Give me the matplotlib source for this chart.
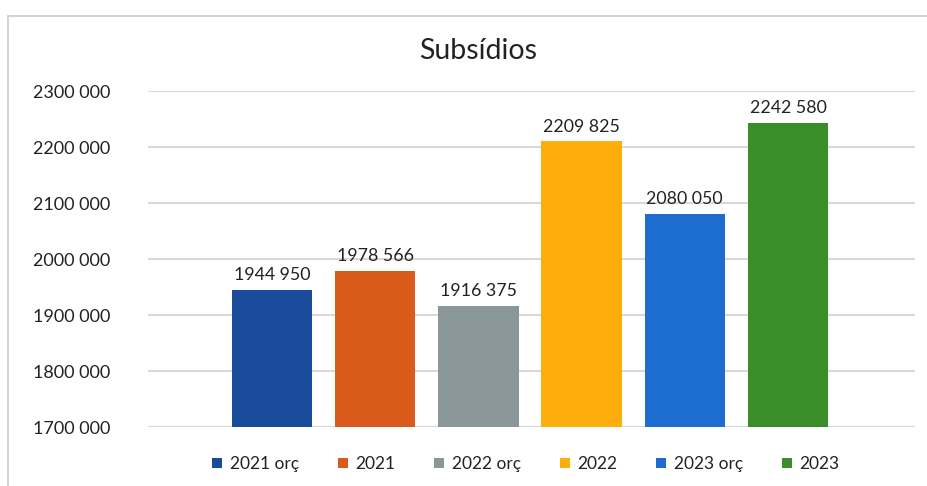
import matplotlib.pyplot as plt
from matplotlib.patches import Rectangle, Patch

plt.rcParams['font.family'] = ['Lato', 'DejaVu Sans']

# Subsídios por ano (orçamento vs. executado)
series = ['2021 orç', '2021', '2022 orç', '2022', '2023 orç', '2023']
values = [1944950, 1978566, 1916375, 2209825, 2080050, 2242580]
colors = ['#1b4c9c', '#da5a1b', '#8a9799', '#fdae0c', '#1d6dd0', '#3a8e2a']
yticks = [1700000, 1800000, 1900000, 2000000, 2100000, 2200000, 2300000]


def fmt(v):
    # espaço como separador de milhares, sem separar o primeiro grupo
    s = f'{v:,}'.split(',')
    return ''.join(s[:-1]) + ' ' + s[-1]


fig = plt.figure(figsize=(9.28, 4.86), dpi=100)
ax = fig.add_axes([148 / 928, 1 - 427 / 486, 767 / 928, 336 / 486])

x = list(range(len(series)))
bars = ax.bar(x, values, width=0.78, color=colors, zorder=2)

for xi, v in zip(x, values):
    ax.annotate(fmt(v), (xi, v), xytext=(0, 5), textcoords='offset points',
                ha='center', va='bottom', fontsize=12.8, color='#222222')

ax.set_xlim(-1.2, 6.23)
ax.set_ylim(1700000, 2300000)
ax.set_yticks(yticks)
ax.set_yticklabels([fmt(t) for t in yticks], fontsize=13, color='#222222')
ax.set_xticks([])
ax.tick_params(axis='y', length=0, pad=27)
ax.yaxis.grid(True, color='#d9d9d9', linewidth=1.5, zorder=0)
ax.set_axisbelow(True)
for s in ax.spines.values():
    s.set_visible(False)

fig.text(478 / 928, 1 - 51 / 486, 'Subsídios', ha='center', va='center',
         fontsize=20.5, color='#222222')

handles = [Patch(facecolor=c, edgecolor='none') for c in colors]
fig.legend(handles, series, loc='center', bbox_to_anchor=(526 / 928, 1 - 464 / 486),
           ncol=6, frameon=False, fontsize=12.5, handlelength=0.55, handleheight=0.55,
           handletextpad=0.45, columnspacing=2.25, labelcolor='#222222')

# moldura do gráfico
fig.patches.append(Rectangle((8 / 928, -0.1), 1.2, 1.1 - 16 / 486,
                             transform=fig.transFigure, fill=False,
                             edgecolor='#d4d4d4', linewidth=1.5))

fig.savefig('out.png', dpi=100)
